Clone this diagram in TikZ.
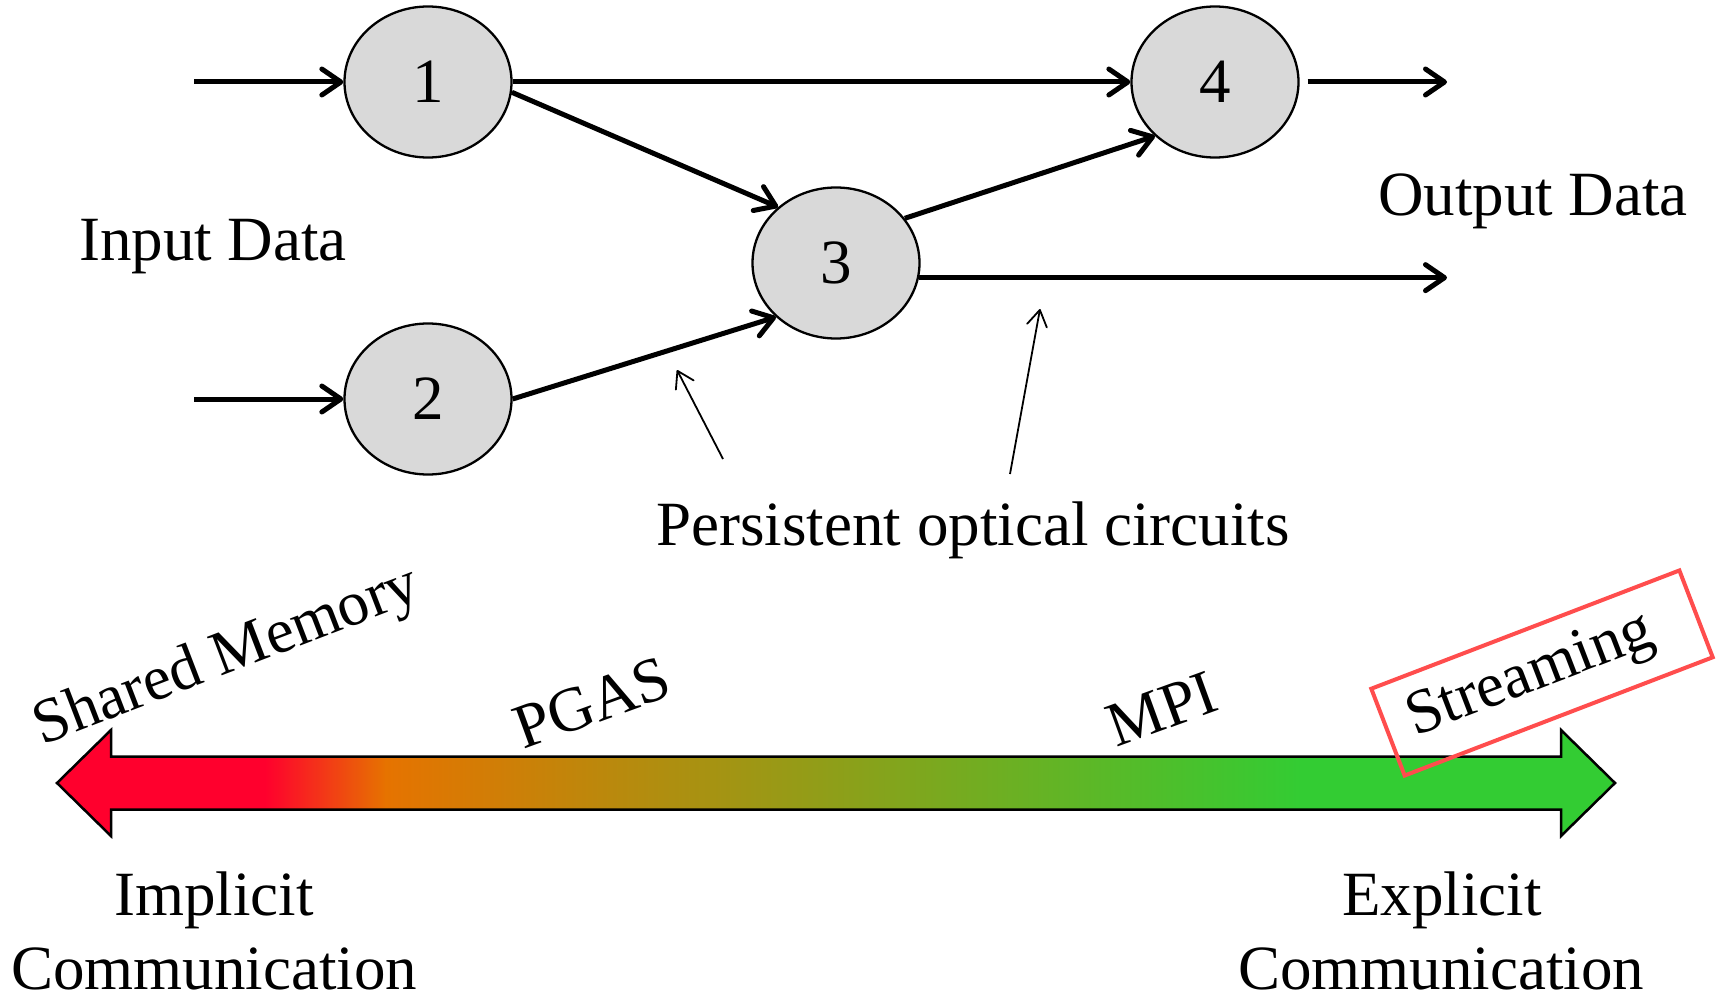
\documentclass[tikz,border=0pt]{standalone}
\usepackage{fontspec}
\setmainfont{Liberation Serif}
\usetikzlibrary{arrows.meta,shapes.geometric}

\definecolor{nodegray}{RGB}{217,217,217}
\definecolor{hotred}{RGB}{255,0,45}
\definecolor{warmorange}{RGB}{230,115,0}
\definecolor{coolgreen}{RGB}{51,204,51}
\definecolor{boxred}{RGB}{255,77,77}

\begin{document}
\begin{tikzpicture}[x=1pt,y=-1pt]
  \def\fs{63}       % font size
  \def\rx{83.5}     % half width of a node
  \def\ry{75.5}     % half height of a node
  \def\ya{783}      % axis of the scale arrow
  \def\hw{53}       % half width of the heads
  \def\sw{26.5}     % half width of the shaft
  \def\hl{54}       % length of the heads
  \def\xl{57}       % left tip
  \def\xr{1615}     % right tip
  \def\ang{21}      % tilt of the labels

  \tikzstyle{every node}=[inner sep=0pt,font=\fontsize{\fs}{68}\selectfont]
  \tikzstyle{proc}=[ellipse,draw,fill=nodegray,line width=2.3pt,
    minimum width=2*\rx,minimum height=2*\ry]
  \tikzstyle{flow}=[-{Straight Barb[length=19pt,width=26pt,round]},line width=5pt]
  \tikzstyle{pointer}=[-{Straight Barb[length=16pt,width=20pt,round]},line width=1.8pt]

  \useasboundingbox (0,0) rectangle (1716,995);

  % PROCESSING NODES
  \node[proc] (n1) at (428,82) {1};
  \node[proc] (n2) at (428,399) {2};
  \node[proc] (n3) at (836,263) {3};
  \node[proc] (n4) at (1215,82) {4};

  % DATA FLOW
  \coordinate (in1) at (194,82);
  \coordinate (in2) at (194,399);
  \coordinate (out1) at (1447,82);
  \coordinate (out2) at (1447,278);
  \draw[flow] (in1) -- (n1.west);
  \draw[flow] (in2) -- (n2.west);
  \draw[flow] (n1.east) -- (n4.west);
  \draw[flow] (n1.-7) -- (n3.136);
  \draw[flow] (n2.east) -- (n3.222);
  \draw[flow] (n3.33) -- (n4.222);
  \draw[flow,shorten <=8pt] (n4.east) -- (out1);
  \draw[flow] (n3.-10) -- (n3.-10 -| out2);

  \node[anchor=base] (input) at (213,260) {Input Data};
  \node[anchor=base] (output) at (1533,216) {Output Data};
  \node[anchor=base] (circuits) at (973,545) {Persistent optical circuits};

  % POINTERS TO THE CIRCUITS
  \coordinate (p1) at (723,459);
  \coordinate (q1) at (677,370);
  \coordinate (p2) at (1010,474);
  \coordinate (q2) at (1040,309);
  \draw[pointer] (p1) -- (q1);
  \draw[pointer] (p2) -- (q2);

  % COMMUNICATION SCALE
  \path[draw=black,line width=2.5pt,path picture={
      \fill[hotred] (0,700) rectangle (266,870);
      \shade[left color=hotred,right color=warmorange] (265,700) rectangle (386,870);
      \shade[left color=warmorange,right color=coolgreen] (385,700) rectangle (1301,870);
      \fill[coolgreen] (1300,700) rectangle (1716,870);
    }]
    (\xl,\ya) -- ({\xl+\hl},{\ya-\hw}) -- ({\xl+\hl},{\ya-\sw})
    -- ({\xr-\hl},{\ya-\sw}) -- ({\xr-\hl},{\ya-\hw}) -- (\xr,\ya)
    -- ({\xr-\hl},{\ya+\hw}) -- ({\xr-\hl},{\ya+\sw})
    -- ({\xl+\hl},{\ya+\sw}) -- ({\xl+\hl},{\ya+\hw}) -- cycle;

  \node[anchor=base,rotate=\ang] (shared) at (233,672) {Shared Memory};
  \node[rotate=20] (pgas) at (592,703) {PGAS};
  \node[rotate=20] (mpi) at (1162,709) {MPI};
  \node[rotate=\ang,draw=boxred,line width=4pt,minimum width=330,
    minimum height=93] (streambox) at (1542,673) {};
  \node[rotate=\ang] (streaming) at (1531,677) {Streaming};

  \node[anchor=base] (impl) at (214,915) {Implicit};
  \node[anchor=base] (implcomm) at (214,989) {Communication};
  \node[anchor=base] (expl) at (1442,915) {Explicit};
  \node[anchor=base] (explcomm) at (1441,989) {Communication};
\end{tikzpicture}
\end{document}
